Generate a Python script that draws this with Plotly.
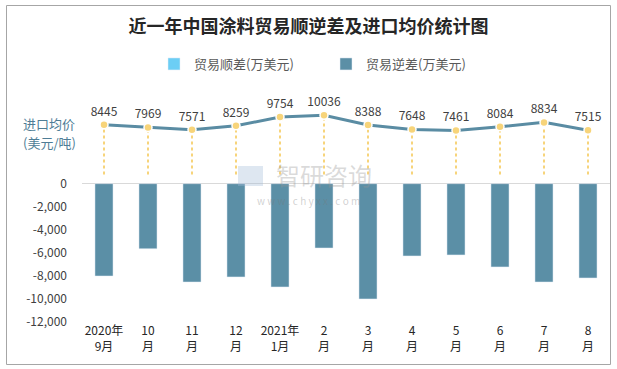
import plotly.graph_objects as go

months = ["2020年<br>9月", "10<br>月", "11<br>月", "12<br>月", "2021年<br>1月", "2<br>月",
          "3<br>月", "4<br>月", "5<br>月", "6<br>月", "7<br>月", "8<br>月"]
surplus = [None] * 12
deficit = [-8010, -5640, -8530, -8090, -8960, -5580, -10000, -6270, -6180, -7220, -8530, -8180]
price = [8445, 7969, 7571, 8259, 9754, 10036, 8388, 7648, 7461, 8084, 8834, 7515]
ytick_vals = [0, -2000, -4000, -6000, -8000, -10000, -12000]
ytick_text = ["0", "-2,000", "-4,000", "-6,000", "-8,000", "-10,000", "-12,000"]

FONT = "Noto Sans CJK SC"
L, R, T, B = 82, 610, 90, 322
W, H = 617, 369
pw, ph = R - L, B - T

def px_x(p):
    return (p - L) / pw

def px_y(p):
    return (B - p) / ph

fig = go.Figure()
fig.add_trace(go.Bar(x=months, y=surplus, name="贸易顺差(万美元)", marker_color="#6ccef5",
                     width=0.41))
fig.add_trace(go.Bar(x=months, y=deficit, name="贸易逆差(万美元)", marker_color="#5b8fa6",
                     width=0.41))

# drop lines
dx, dy = [], []
for m, p in zip(months, price):
    dx += [m, m, None]
    dy += [0, p, None]
fig.add_trace(go.Scatter(x=dx, y=dy, yaxis="y2", mode="lines", showlegend=False,
                         line=dict(color="#f7d47a", width=2, dash="dot"), hoverinfo="skip"))
fig.add_trace(go.Scatter(x=months, y=price, yaxis="y2", mode="lines+markers+text",
                         showlegend=False, text=[str(v) for v in price],
                         textposition="top center",
                         textfont=dict(family=FONT, size=12, color="#404040"),
                         line=dict(color="#5a8ca3", width=3),
                         marker=dict(color="#f7d47a", size=8, line=dict(color="white", width=1.5))))

fig.update_layout(
    width=W, height=H,
    margin=dict(l=L, r=W - R, t=T, b=H - B, pad=0, autoexpand=False),
    paper_bgcolor="white", plot_bgcolor="white",
    font=dict(family=FONT, size=12, color="#404040"),
    bargap=0.59, barmode="overlay", hovermode=False,
    title=dict(text="<b>近一年中国涂料贸易顺逆差及进口均价统计图</b>", x=0.5, xref="container",
               xanchor="center", y=1 - 27 / H, yref="container", yanchor="middle",
               font=dict(family=FONT, size=18, color="#262626")),
    legend=dict(orientation="h", x=px_x(154), y=px_y(64), xanchor="left", yanchor="middle",
                font=dict(family=FONT, size=13, color="#595959"), entrywidth=127,
                entrywidthmode="pixels", itemwidth=30, bgcolor="rgba(0,0,0,0)"),
    xaxis=dict(type="category", range=[-0.5, 11.5], autorange=False, showgrid=False,
               showline=False, ticks="", automargin=False,
               tickfont=dict(family=FONT, size=12, color="#262626"), fixedrange=True),
    yaxis=dict(range=[-12000, 8127], autorange=False, tickvals=ytick_vals, ticktext=ytick_text,
               showgrid=False, zeroline=True, zerolinecolor="#d9d9d9", zerolinewidth=1,
               showline=False, ticks="", ticklabelstandoff=14, automargin=False,
               tickfont=dict(family=FONT, size=12, color="#404040")),
    yaxis2=dict(range=[-25000, 14322], autorange=False, overlaying="y", side="right",
                visible=False, showgrid=False, zeroline=False, automargin=False),
    showlegend=True,
)

# left label for price (two lines)
fig.add_annotation(text="进口均价", xref="paper", yref="paper",
                   x=px_x(21), y=px_y(123), xanchor="left", yanchor="middle",
                   showarrow=False, font=dict(family=FONT, size=13, color="#4e7d96"))
fig.add_annotation(text="(美元/吨)", xref="paper", yref="paper",
                   x=px_x(21), y=px_y(142), xanchor="left", yanchor="middle",
                   showarrow=False, font=dict(family=FONT, size=13, color="#4e7d96"))

# watermark
fig.add_annotation(text="智研咨询", xref="paper", yref="paper", x=px_x(324), y=px_y(174),
                   xanchor="center", yanchor="middle", showarrow=False,
                   font=dict(family=FONT, size=24, color="rgba(150,150,150,0.35)"))
fig.add_annotation(text="w w w . c h y x x . c o m", xref="paper", yref="paper",
                   x=px_x(308), y=px_y(200), xanchor="center", yanchor="middle",
                   showarrow=False, font=dict(family=FONT, size=10, color="rgba(120,120,120,0.35)"))
fig.add_shape(type="rect", xref="paper", yref="paper", x0=px_x(238), x1=px_x(263),
              y0=px_y(186), y1=px_y(166), line=dict(width=0),
              fillcolor="rgba(160,185,215,0.35)", layer="above")

# chart border
fig.add_shape(type="rect", xref="paper", yref="paper", x0=px_x(6.5), x1=px_x(610.5),
              y0=px_y(364.5), y1=px_y(5.5), line=dict(color="#a6a6a6", width=1),
              fillcolor="rgba(0,0,0,0)", layer="above")

fig.write_html("out.html", config={"displayModeBar": False, "staticPlot": True},
               post_script="document.body.style.margin='0';document.body.style.overflow='hidden';")
